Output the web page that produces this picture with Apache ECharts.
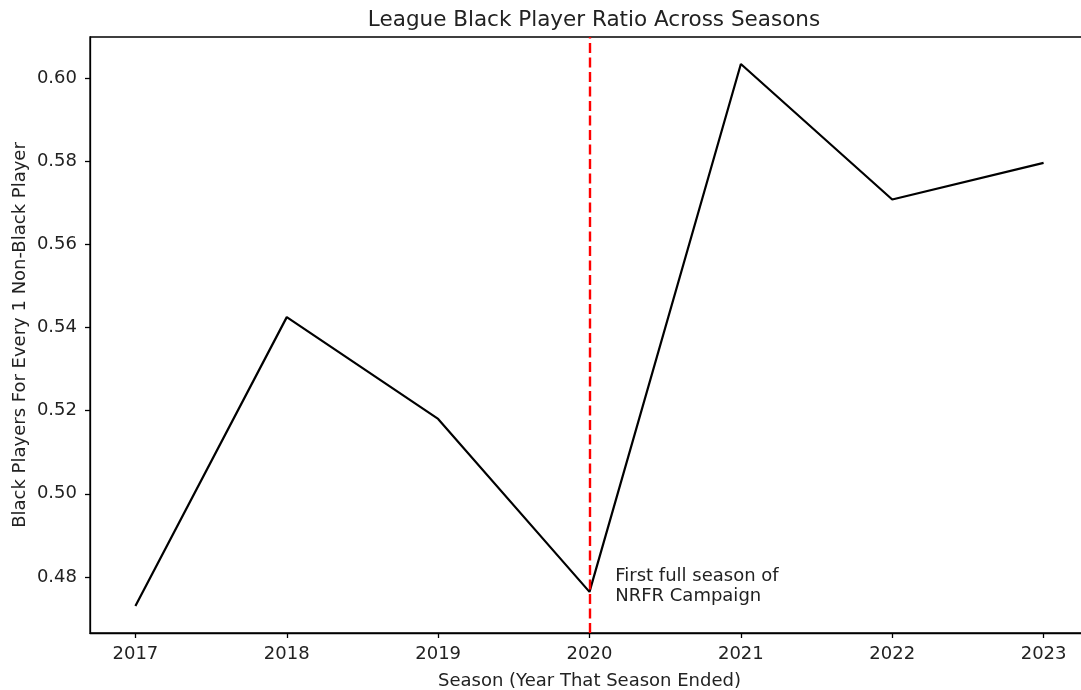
<!DOCTYPE html>
<html>
<head>
<meta charset="utf-8">
<script src="https://cdn.jsdelivr.net/npm/echarts@6/dist/echarts.min.js"></script>
<style>
  html, body { margin: 0; padding: 0; background: #fff; }
  #chart { width: 1081px; height: 690px; }
</style>
</head>
<body>
<div id="chart"></div>
<script>
// League-wide ratio of Black players per non-Black player, by season
const seasons = [2017, 2018, 2019, 2020, 2021, 2022, 2023];
const ratios = [0.4730, 0.5425, 0.5180, 0.4764, 0.6034, 0.5708, 0.5796];
const yTicks = [0.48, 0.50, 0.52, 0.54, 0.56, 0.58, 0.60];
const campaignSeason = 2020;
const campaignNote = 'First full season of\nNRFR Campaign';

const font = 'DejaVu Sans';
const ink = '#222';

const chart = echarts.init(document.getElementById('chart'), null, { renderer: 'canvas' });
chart.setOption({
  animation: false,
  backgroundColor: '#fff',
  textStyle: { fontFamily: font },
  title: {
    text: 'League Black Player Ratio Across Seasons',
    left: 589,
    top: 4,
    textAlign: 'center',
    textStyle: { fontFamily: font, fontSize: 21.5, fontWeight: 'normal', color: ink }
  },
  grid: {
    left: 90, top: 37, width: 999, height: 596,
    outerBoundsMode: 'none',
    containLabel: false,
    show: true, borderColor: '#000', borderWidth: 1.3, backgroundColor: 'transparent'
  },
  xAxis: {
    type: 'value',
    min: 2016.7,
    max: 2023.3,
    name: 'Season (Year That Season Ended)',
    nameLocation: 'middle',
    nameGap: 39,
    nameTextStyle: { fontFamily: font, fontSize: 18, color: ink },
    splitLine: { show: false },
    axisLine: { show: true, lineStyle: { color: '#000', width: 1.3 } },
    axisTick: { show: true, length: 5, customValues: seasons, lineStyle: { color: '#000', width: 1.3 } },
    axisLabel: {
      customValues: seasons, margin: 12,
      fontFamily: font, fontSize: 18, color: ink,
      formatter: v => String(v)
    }
  },
  yAxis: {
    type: 'value',
    min: 0.4665,
    max: 0.6099,
    name: 'Black Players For Every 1 Non-Black Player',
    nameLocation: 'middle',
    nameGap: 70,
    nameMoveOverlap: false,
    nameTextStyle: { fontFamily: font, fontSize: 18, color: ink, verticalAlign: 'middle' },
    splitLine: { show: false },
    axisLine: { show: true, lineStyle: { color: '#000', width: 1.3 } },
    axisTick: { show: true, length: 5, customValues: yTicks, lineStyle: { color: '#000', width: 1.3 } },
    axisLabel: {
      customValues: yTicks, margin: 13,
      fontFamily: font, fontSize: 18, color: ink,
      formatter: v => v.toFixed(2)
    }
  },
  series: [{
    type: 'line',
    data: seasons.map((s, i) => [s, ratios[i]]),
    symbol: 'none',
    lineStyle: { color: '#000', width: 2.2 },
    z: 3,
    markLine: {
      silent: true,
      symbol: 'none',
      label: { show: false },
      lineStyle: { color: '#ff0000', width: 2.4, type: [10, 4.5] },
      data: [{ xAxis: campaignSeason }],
      z: 4
    },
    markPoint: {
      silent: true,
      symbol: 'circle',
      symbolSize: 0,
      data: [{ coord: [2020.17, 0.4778] }],
      label: {
        show: true,
        position: 'inside',
        formatter: campaignNote,
        align: 'left',
        verticalAlign: 'middle',
        lineHeight: 20,
        fontFamily: font, fontSize: 18, color: ink
      }
    }
  }]
});
</script>
</body>
</html>
